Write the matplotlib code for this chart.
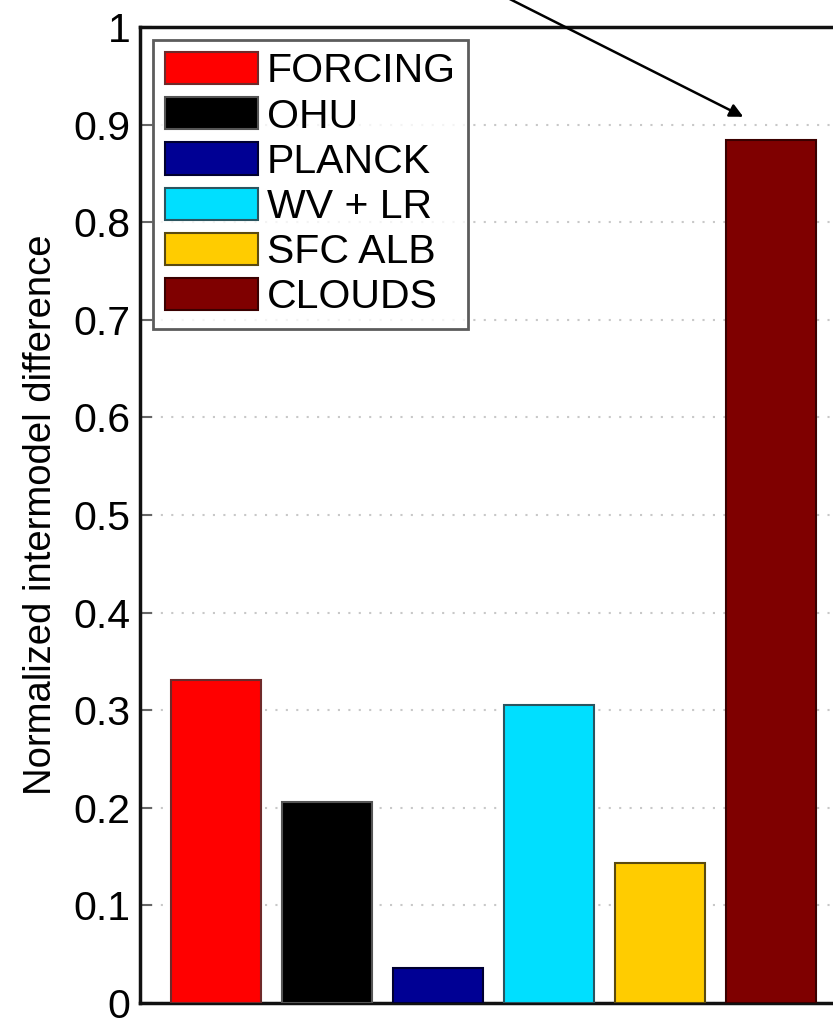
import matplotlib
matplotlib.use("Agg")
import matplotlib.pyplot as plt
import numpy as np

# data
labels = ["FORCING", "OHU", "PLANCK", "WV + LR", "SFC ALB", "CLOUDS"]
values = [0.331, 0.206, 0.036, 0.305, 0.143, 0.884]
colors = ["#ff0000", "#000000", "#000094", "#00dfff", "#ffcc00", "#7f0000"]
edges = ["#6e2a2a", "#555555", "#000030", "#2a5560", "#5a4a10", "#3a0000"]
yticks = [0, 0.1, 0.2, 0.3, 0.4, 0.5, 0.6, 0.7, 0.8, 0.9, 1]
ytick_labels = ["0", "0.1", "0.2", "0.3", "0.4", "0.5", "0.6", "0.7", "0.8", "0.9", "1"]

plt.rcParams["font.family"] = ["Liberation Sans", "DejaVu Sans"]

W, H = 833, 1018
fig = plt.figure(figsize=(W / 100, H / 100), dpi=100)
# axes runs off the right edge of the picture, like the cropped original
ax = fig.add_axes([140 / W, 15 / H, 800 / W, 976 / H])

x = np.arange(1, len(values) + 1)
for xi, v, c, e, lab in zip(x, values, colors, edges, labels):
    ax.bar(xi, v, width=0.81, color=c, edgecolor=e, linewidth=1.5, label=lab, zorder=3)

ax.set_xlim(0.315, 0.315 + 800 / 111)
ax.set_ylim(0, 1)
ax.set_yticks(yticks)
ax.set_yticklabels(ytick_labels)
ax.set_xticks([])
ax.tick_params(axis="y", direction="in", length=8.5, width=1.5, color="#666666",
               labelsize=29.5, pad=7)

ax.yaxis.grid(True, color="#c8c8c8", linewidth=1.5, linestyle=(0, (1, 4)), zorder=0)
ax.set_axisbelow(True)
for s in ax.spines.values():
    s.set_linewidth(2.5)
    s.set_color("#111111")

ax.set_ylabel("Normalized intermodel difference", fontsize=27.5, labelpad=10)

leg = ax.legend(loc="upper left", fontsize=29.5, frameon=True, fancybox=False,
                borderaxespad=0.31, borderpad=0.3, labelspacing=0.17,
                handlelength=2.27, handleheight=0.83, handletextpad=0.22)
leg.get_frame().set_edgecolor("#333333")
leg.get_frame().set_linewidth(2)
leg.set_zorder(5)

# arrow pointing at the clouds bar, coming from outside the top of the plot
ax.annotate("", xy=(5.75, 0.908), xytext=(3.1, 1.06), xycoords="data",
            textcoords="data", annotation_clip=False,
            arrowprops=dict(arrowstyle="-|>,head_length=0.8,head_width=0.4",
                            color="black", lw=1.8, shrinkA=0, shrinkB=0))

fig.savefig("out.png", dpi=100)
